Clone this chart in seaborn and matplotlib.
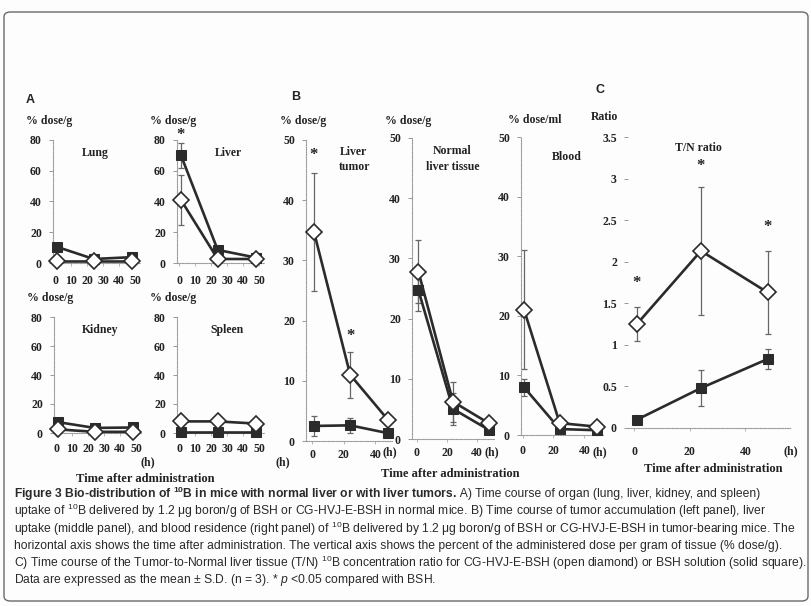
import numpy as np
import pandas as pd
import matplotlib
matplotlib.use("Agg")
import matplotlib.pyplot as plt
from matplotlib import font_manager
from matplotlib.patches import FancyBboxPatch
import seaborn as sns

W, H = 812, 606

# ── data ────────────────────────────────────────────────────────
TIME_H = [1, 24, 48]

LUNG_BSH = [10.5, 2.6, 3.8]
LUNG_CG = [1.3, 1.3, 1.3]
LIVER_BSH = [70, 8.5, 3.5]
LIVER_BSH_SD = [8, 0, 0]
LIVER_CG = [41, 2.6, 2.6]
LIVER_CG_SD = [16, 0, 0]
KIDNEY_BSH = [7.5, 3.5, 3.8]
KIDNEY_CG = [2.5, 0.8, 0.8]
SPLEEN_BSH = [0.8, 0.8, 0.8]
SPLEEN_CG = [8, 8, 6.5]

TUMOR_CG = [34.8, 11, 3.5]
TUMOR_CG_SD = [9.8, 3.8, 0]
TUMOR_BSH = [2.5, 2.6, 1.3]
TUMOR_BSH_SD = [1.7, 1.2, 0]
NORMAL_CG = [27.8, 6.2, 2.6]
NORMAL_CG_SD = [5.2, 3.3, 0]
NORMAL_BSH = [24.7, 5.0, 1.5]
NORMAL_BSH_SD = [3.4, 2.6, 0]
BLOOD_CG = [21, 2, 1.4]
BLOOD_CG_SD = [10, 0, 0]
BLOOD_BSH = [8, 1, 0.8]
BLOOD_BSH_SD = [1.4, 0, 0]

RATIO_CG = [1.25, 2.13, 1.63]
RATIO_CG_SD = [0.2, 0.77, 0.5]
RATIO_BSH = [0.1, 0.48, 0.83]
RATIO_BSH_SD = [0.05, 0.22, 0.12]

# significance stars (time, height)
LIVER_STARS = [(1, 83)]
TUMOR_STARS = [(1, 47.5), (24, 17.4)]
RATIO_STARS = [(1, 1.75), (24, 3.15), (48, 2.42)]

LINE = "#2b2b2b"
SERIF = "Liberation Serif"
CAP_FONT = "Liberation Sans"

sns.set_style("white")
plt.rcParams["font.family"] = [CAP_FONT, "DejaVu Sans"]
plt.rcParams["mathtext.fontset"] = "custom"
plt.rcParams["mathtext.rm"] = CAP_FONT
plt.rcParams["mathtext.it"] = CAP_FONT + ":italic"
plt.rcParams["mathtext.bf"] = CAP_FONT + ":bold"

fig = plt.figure(figsize=(W / 100, H / 100), dpi=100, facecolor="#fdfdfd")


def px_axes(l, t, r, b):
    return fig.add_axes([l / W, 1 - b / H, (r - l) / W, (b - t) / H])


def ftxt(x, y, s, **kw):
    kw.setdefault("ha", "center")
    kw.setdefault("va", "center")
    return fig.text(x / W, 1 - y / H, s, **kw)


def draw_panel(ax, bsh, cg, bsh_sd=None, cg_sd=None):
    for vals, sd in ((cg, cg_sd), (bsh, bsh_sd)):
        if sd is not None:
            ax.errorbar(TIME_H, vals, yerr=sd, fmt="none", ecolor="#666",
                        elinewidth=0.9, capsize=2.5, capthick=0.9,
                        zorder=2, clip_on=False)
    sns.lineplot(x=TIME_H, y=bsh, ax=ax, color=LINE, linewidth=1.9,
                 marker="s", markersize=6.5, markerfacecolor=LINE,
                 markeredgecolor=LINE, clip_on=False, zorder=3)
    sns.lineplot(x=TIME_H, y=cg, ax=ax, color=LINE, linewidth=1.9,
                 marker="D", markersize=8, markerfacecolor="white",
                 markeredgecolor=LINE, markeredgewidth=1.2,
                 clip_on=False, zorder=4)


def style_axes(ax, xlim, ylim, yticks, xticks, ylabels=None, xpad=5):
    ax.set_xlim(*xlim)
    ax.set_ylim(*ylim)
    ax.set_yticks(yticks)
    if ylabels is not None:
        ax.set_yticklabels(ylabels)
    ax.set_xticks(xticks)
    ax.set_facecolor("none")
    for side in ["top", "right"]:
        ax.spines[side].set_visible(False)
    for side in ["left", "bottom"]:
        ax.spines[side].set_color("#9a9a9a")
        ax.spines[side].set_linewidth(0.8)
        ax.spines[side].set_linestyle((0, (1, 1.2)))
    ax.tick_params(axis="y", length=3, width=0.6, color="#888", pad=5,
                   direction="out", left=True)
    ax.tick_params(axis="x", length=2, width=0.6, color="#aaa", pad=xpad,
                   direction="out", bottom=True)
    ax.set_xlabel("")
    ax.set_ylabel("")
    for lab in ax.get_xticklabels() + ax.get_yticklabels():
        lab.set_fontfamily(SERIF)
        lab.set_fontweight("bold")
        lab.set_fontsize(8.5)
        lab.set_color("#222")


def stars(ax, pts):
    for x, y in pts:
        ax.text(x, y, "*", ha="center", va="center", fontsize=12,
                fontfamily=SERIF, fontweight="bold", color="#222",
                clip_on=False)


TITLE = dict(fontfamily=SERIF, fontweight="bold", fontsize=8.5, color="#222")
UNIT = dict(fontfamily=SERIF, fontweight="bold", fontsize=8.5, color="#222")
XLAB = dict(UNIT, fontsize=9)
PANEL = dict(fontfamily="Liberation Sans", fontweight="bold", fontsize=9,
             color="#222")

# ── Panel A ─────────────────────────────────────────────────────
a_xlim, a_ticks = (-1.5, 53), [0, 10, 20, 30, 40, 50]
a_yticks = [0, 20, 40, 60, 80]
organ_panels = [
    ((53, 140, 140, 263), LUNG_BSH, LUNG_CG, None, None, "Lung", 95, 153, 7),
    ((177, 140, 264, 263), LIVER_BSH, LIVER_CG, LIVER_BSH_SD, LIVER_CG_SD, "Liver", 228, 153, 7),
    ((54, 317, 141, 433), KIDNEY_BSH, KIDNEY_CG, None, None, "Kidney", 100, 330, 5),
    ((177, 317, 264, 433), SPLEEN_BSH, SPLEEN_CG, None, None, "Spleen", 227, 330, 5),
]
for box, bsh, cg, bsd, csd, name, tx, ty, pad in organ_panels:
    ax = px_axes(*box)
    draw_panel(ax, bsh, cg, bsd, csd)
    style_axes(ax, a_xlim, (0, 80), a_yticks, a_ticks, xpad=pad)
    ftxt(tx, ty, name, **TITLE)
    ftxt(box[0] - 4, box[1] - 19, "% dose/g", **UNIT)
    if name == "Liver":
        stars(ax, LIVER_STARS)

ftxt(30, 100, "A", **PANEL)
ftxt(148, 462, "(h)", **UNIT)
ftxt(283, 462, "(h)", **UNIT)
ftxt(145, 479, "Time after administration", **XLAB)

# ── Panel B ─────────────────────────────────────────────────────
b_yticks = [0, 10, 20, 30, 40, 50]
ax = px_axes(306, 140, 392, 441)
draw_panel(ax, TUMOR_BSH, TUMOR_CG, TUMOR_BSH_SD, TUMOR_CG_SD)
style_axes(ax, (-4, 50.5), (0, 50), b_yticks, [0, 20, 40], xpad=4)
stars(ax, TUMOR_STARS)
ftxt(353, 152, "Liver", **TITLE)
ftxt(355, 167, "tumor", **TITLE)
ftxt(303, 121, "% dose/g", **UNIT)

ax = px_axes(412, 138, 495, 439)
draw_panel(ax, NORMAL_BSH, NORMAL_CG, NORMAL_BSH_SD, NORMAL_CG_SD)
style_axes(ax, (-3.3, 52), (0, 50), b_yticks, [0, 20, 40], xpad=4)
ftxt(452, 151, "Normal", **TITLE)
ftxt(453, 167, "liver tissue", **TITLE)
ftxt(408, 121, "% dose/g", **UNIT)

ax = px_axes(521, 137, 603, 435)
draw_panel(ax, BLOOD_BSH, BLOOD_CG, BLOOD_BSH_SD, BLOOD_CG_SD)
style_axes(ax, (-1, 52), (0, 50), b_yticks, [0, 20, 40], xpad=5)
ftxt(567, 157, "Blood", **TITLE)
ftxt(535, 120, "% dose/ml", **UNIT)

ftxt(296, 97, "B", **PANEL)
for hx in (390, 492, 600):
    ftxt(hx, 452, "(h)", **UNIT)
ftxt(450, 474, "Time after administration", **XLAB)

# ── Panel C ─────────────────────────────────────────────────────
r_yticks = [0, 0.5, 1, 1.5, 2, 2.5, 3, 3.5]
r_labels = ["0", "0.5", "1", "1.5", "2", "2.5", "3", "3.5"]
ax = px_axes(628, 137, 790, 428)
draw_panel(ax, RATIO_BSH, RATIO_CG, RATIO_BSH_SD, RATIO_CG_SD)
style_axes(ax, (-2.2, 56), (0, 3.5), r_yticks, [0, 20, 40],
           ylabels=r_labels, xpad=11)
ax.spines["left"].set_visible(False)
stars(ax, RATIO_STARS)
ftxt(698, 148, "T/N ratio", **TITLE)
ftxt(605, 117, "Ratio", **UNIT)
ftxt(600, 90, "C", **PANEL)
ftxt(791, 451, "(h)", **UNIT)
ftxt(713, 469, "Time after administration", **XLAB)

# ── frame ───────────────────────────────────────────────────────
frame = FancyBboxPatch((4 / W, 1 - 601 / H), 804 / W, 589 / H,
                       boxstyle="round,pad=0,rounding_size=0.008",
                       transform=fig.transFigure, facecolor="none",
                       edgecolor="#6a6a6a", linewidth=1.0)
fig.patches.append(frame)

# ── caption ─────────────────────────────────────────────────────
CAP_BOLD = "Figure 3 Bio-distribution of $\\mathbf{^{10}}$B in mice with normal liver or with liver tumors."
CAP_REST = " A) Time course of organ (lung, liver, kidney, and spleen)"
CAP_LINES = [
    "uptake of $^{10}$B delivered by 1.2 \u03bcg boron/g of BSH or CG-HVJ-E-BSH in normal mice. B) Time course of tumor accumulation (left panel), liver",
    "uptake (middle panel), and blood residence (right panel) of $^{10}$B delivered by 1.2 \u03bcg boron/g of BSH or CG-HVJ-E-BSH in tumor-bearing mice. The",
    "horizontal axis shows the time after administration. The vertical axis shows the percent of the administered dose per gram of tissue (% dose/g).",
    "C) Time course of the Tumor-to-Normal liver tissue (T/N) $^{10}$B concentration ratio for CG-HVJ-E-BSH (open diamond) or BSH solution (solid square).",
    "Data are expressed as the mean \u00b1 S.D. (n = 3). * $p$ <0.05 compared with BSH.",
]

renderer = fig.canvas.get_renderer()


def text_width(s, **kw):
    p = fig.text(0, 0, s, fontsize=10, **kw)
    w = p.get_window_extent(renderer).width
    p.remove()
    return w


# widest line must end inside the frame like the reference
x0, y0, dy = 14, 494, 17.3
w_first = text_width(CAP_BOLD, fontweight="bold") + text_width(CAP_REST)
widths = [w_first] + [text_width(s) for s in CAP_LINES]
cap_size = 10 * 788 / max(widths)

t = ftxt(x0, y0, CAP_BOLD, ha="left", fontsize=cap_size, fontweight="bold",
         color="#2a2a2a")
bb = t.get_window_extent(renderer)
fig.text(bb.x1 / W, 1 - y0 / H, CAP_REST, ha="left", va="center",
         fontsize=cap_size, color="#2a2a2a")
for i, line in enumerate(CAP_LINES, start=1):
    ftxt(x0, y0 + i * dy, line, ha="left", fontsize=cap_size, color="#2a2a2a")

fig.savefig("out.png", dpi=100, facecolor=fig.get_facecolor())
